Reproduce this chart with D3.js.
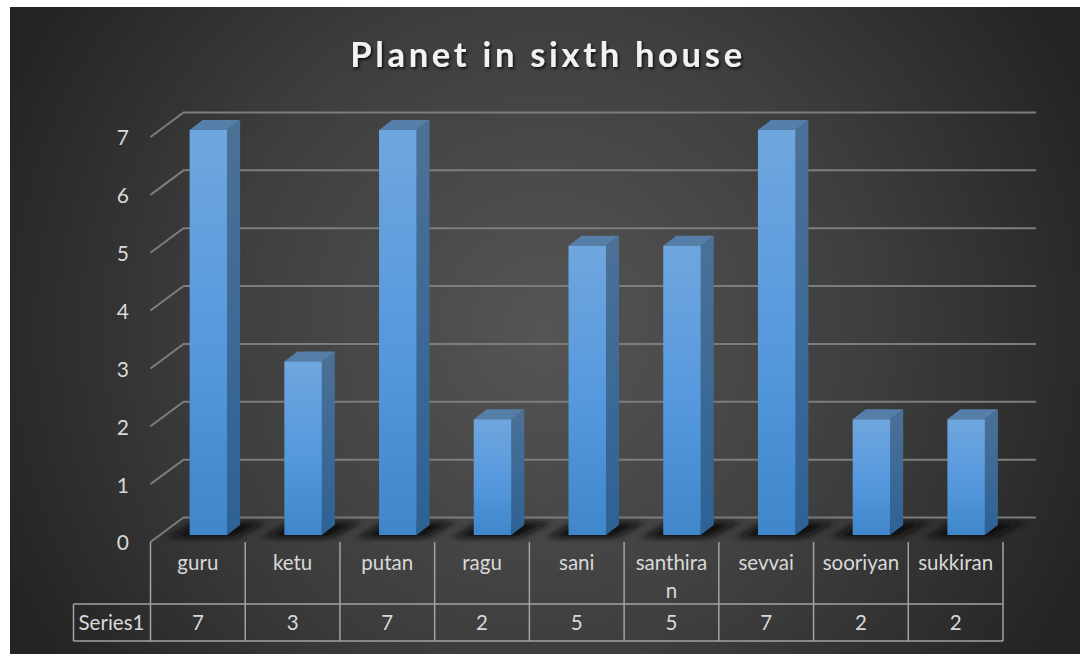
<!DOCTYPE html>
<html>
<head>
<meta charset="utf-8">
<script src="https://cdn.jsdelivr.net/npm/d3@7/dist/d3.min.js"></script>
<style>
  html, body { margin: 0; padding: 0; background: #fff; overflow: hidden; }
  svg { display: block; }
  text { font-family: Lato, "Open Sans", sans-serif; fill: #d9d9d9; }
</style>
</head>
<body>
<svg id="chart" width="1080" height="654"></svg>
<script>
// Chart content
const titleText = "Planet in sixth house";
const seriesName = "Series1";
const categories = ["guru", "ketu", "putan", "ragu", "sani", "santhiran", "sevvai", "sooriyan", "sukkiran"];
const values = [7, 3, 7, 2, 5, 5, 7, 2, 2];
const yTicks = [0, 1, 2, 3, 4, 5, 6, 7];
// Category labels wrap at this many characters inside their table cell
const wrapAt = 8;

const svg = d3.select("#chart");
const W = 1080, H = 654;
const panel = { x: 10, y: 7 };

// Oblique projection of the 3D box: front plane plus a receding depth vector
const left = 150.5, right = 1003;
const front0 = 542, front7 = 137;
const wallDx = 33, wallDy = -24.5;   // front plane to back wall
const barDepthDx = 13, barDepthDy = -10;
const barInsetDx = 10.5, barInsetDy = -7;

const x = d3.scaleBand().domain(categories).range([left, right]).padding(0);
const y = d3.scaleLinear().domain([0, 7]).range([front0, front7]);
const barW = 37.5;

const defs = svg.append("defs");

const bg = defs.append("radialGradient").attr("id", "bg")
  .attr("gradientUnits", "userSpaceOnUse")
  .attr("cx", 545).attr("cy", 330).attr("r", 590);
bg.append("stop").attr("offset", 0).attr("stop-color", "#555555");
bg.append("stop").attr("offset", 0.55).attr("stop-color", "#3e3e3e");
bg.append("stop").attr("offset", 1).attr("stop-color", "#242424");

// Each face shades over its own height, so short bars also start light
function vertical(id, stops) {
  const g = defs.append("linearGradient").attr("id", id)
    .attr("x1", 0).attr("x2", 0).attr("y1", 0).attr("y2", 1);
  stops.forEach(([o, c]) => g.append("stop").attr("offset", o).attr("stop-color", c));
}
vertical("barFront", [[0, "#6fa6de"], [0.55, "#5598de"], [1, "#3f86ca"]]);
vertical("barSide", [[0, "#4c7197"], [1, "#2d6295"]]);

defs.append("filter").attr("id", "floorBlur")
  .attr("x", "-40%").attr("y", "-100%").attr("width", "180%").attr("height", "300%")
  .append("feGaussianBlur").attr("stdDeviation", "6 2.5");

const titleShadow = defs.append("filter").attr("id", "titleShadow")
  .attr("x", "-5%").attr("y", "-20%").attr("width", "110%").attr("height", "150%");
titleShadow.append("feDropShadow").attr("dx", 1.5).attr("dy", 2).attr("stdDeviation", 1.5)
  .attr("flood-color", "#000").attr("flood-opacity", 0.75);

// Background panel
svg.append("rect").attr("x", panel.x).attr("y", panel.y)
  .attr("width", W - panel.x).attr("height", H - panel.y).attr("fill", "url(#bg)");

// Title
svg.append("text").attr("x", 548).attr("y", 67)
  .attr("text-anchor", "middle")
  .attr("font-size", 34.5).attr("font-weight", 700)
  .style("letter-spacing", "3.7px")
  .style("fill", "#f2f2f2")
  .attr("filter", "url(#titleShadow)")
  .text(titleText);

// Side wall and back wall gridlines
const backRight = 1036;
svg.append("g").selectAll("polyline").data(yTicks).join("polyline")
  .attr("points", d => [
    [left, y(d)],
    [left + wallDx, y(d) + wallDy],
    [backRight, y(d) + wallDy]
  ].join(" "))
  .attr("fill", "none").attr("stroke", "#7d7d7d").attr("stroke-width", 2);

// Value axis labels
const axis = d3.axisLeft(y).tickValues(yTicks).tickFormat(d3.format("d")).tickSize(0).tickPadding(0);
const axisG = svg.append("g").attr("transform", "translate(129,0)").call(axis);
axisG.select(".domain").remove();
axisG.selectAll("text")
  .attr("x", 0).attr("dy", "0.38em")
  .attr("font-size", 21)
  .style("font-family", "Lato, sans-serif")
  .style("text-anchor", "end");

// Bars: floor shadow first, then side, top and front faces
const barX = d => x(d.c) + (x.bandwidth() - barW) / 2 + barInsetDx;
const barBase = y(0) + barInsetDy;
const barTop = d => y(d.v) + barInsetDy;
const data = categories.map((c, i) => ({ c, v: values[i] }));

svg.append("g").selectAll("polygon").data(data).join("polygon")
  .attr("points", d => {
    const a = barX(d);
    return [
      [a - 20, barBase + 3],
      [a + barW + 8, barBase + 3],
      [a + barW + 38, barBase - 13],
      [a + 6, barBase - 13]
    ].join(" ");
  })
  .attr("fill", "#0a0a0a").attr("opacity", 0.95)
  .attr("filter", "url(#floorBlur)");

const bars = svg.append("g").selectAll("g").data(data).join("g");
bars.append("polygon")
  .attr("points", d => {
    const r = barX(d) + barW;
    return [
      [r, barTop(d)],
      [r + barDepthDx, barTop(d) + barDepthDy],
      [r + barDepthDx, barBase + barDepthDy],
      [r, barBase]
    ].join(" ");
  })
  .attr("fill", "url(#barSide)");
bars.append("polygon")
  .attr("points", d => {
    const a = barX(d), t = barTop(d);
    return [
      [a, t],
      [a + barDepthDx, t + barDepthDy],
      [a + barW + barDepthDx, t + barDepthDy],
      [a + barW, t]
    ].join(" ");
  })
  .attr("fill", "#557ea9");
bars.append("rect")
  .attr("x", barX).attr("y", barTop)
  .attr("width", barW).attr("height", d => barBase - barTop(d))
  .attr("fill", "url(#barFront)");

// Data table
const tableRow1 = 604, tableRow2 = 641, seriesLeft = 73.5;
const table = svg.append("g").attr("stroke", "#a3a3a3").attr("stroke-width", 1.5).attr("fill", "none");
const edges = categories.map(c => x(c)).concat(right);
table.selectAll("line.v").data(edges).join("line")
  .attr("x1", d => d).attr("x2", d => d)
  .attr("y1", front0).attr("y2", tableRow2);
table.append("path").attr("d",
  `M${seriesLeft},${tableRow1}H${right}M${seriesLeft},${tableRow2}H${right}M${seriesLeft},${tableRow1}V${tableRow2}`);

// Category labels, broken by character count when too long for the cell
const cat = svg.append("g").attr("font-size", 20.5).attr("text-anchor", "middle");
cat.selectAll("text").data(categories).join("text")
  .attr("x", d => x(d) + x.bandwidth() / 2)
  .attr("y", 570)
  .each(function (d) {
    const lines = d.length > wrapAt ? [d.slice(0, wrapAt), d.slice(wrapAt)] : [d];
    d3.select(this).selectAll("tspan").data(lines).join("tspan")
      .attr("x", x(d) + x.bandwidth() / 2)
      .attr("dy", (l, i) => i ? 28 : 0)
      .text(l => l);
  });

// Table values and series name
svg.append("g").attr("font-size", 20.5).attr("text-anchor", "middle")
  .selectAll("text").data(data).join("text")
  .attr("x", d => x(d.c) + x.bandwidth() / 2)
  .attr("y", 630)
  .text(d => d.v);
svg.append("text").attr("x", (seriesLeft + left) / 2 - 0.5).attr("y", 630)
  .attr("text-anchor", "middle").attr("font-size", 20.5).text(seriesName);
</script>
</body>
</html>
